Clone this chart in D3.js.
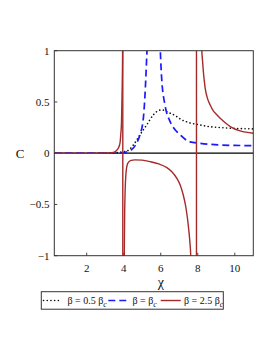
<!DOCTYPE html>
<html>
<head>
<meta charset="utf-8">
<script src="https://cdn.jsdelivr.net/npm/d3@7"></script>
<style>
  body { margin: 0; background: #fff; }
  svg { display: block; }
  text { font-family: "Liberation Serif", "Times New Roman", serif; fill: #111; }
</style>
</head>
<body>
<svg id="canvas" width="274" height="355"></svg>
<script>
// beta = 0.5 beta_c (black dotted)
let blackChi = [0.25, 2, 3, 3.6, 3.9, 4.16, 4.52, 4.88, 5.24, 5.6, 5.96, 6.15, 6.33, 6.87, 7.04, 7.5, 8.12, 8.6, 9.21, 10, 11]
let blackC = [0, 0, 0.001, 0.005, 0.012, 0.02, 0.08, 0.18, 0.276, 0.374, 0.42, 0.42, 0.405, 0.357, 0.335, 0.3, 0.276, 0.26, 0.25, 0.242, 0.237]

// beta = beta_c (blue dashed), null = pole
let blueChi = [0.25, 2, 3, 3.98, 4.2, 4.52, 4.7, 4.88, 5.06, 5.15, 5.24, 5.3, 5.6, 5.94, 6.0, 6.05, 6.23, 6.5, 6.87, 7.04, 7.58, 8.12, 9.21, 10, 11]
let blueC = [0, 0, 0, 0.003, 0.015, 0.05, 0.1, 0.18, 0.34, 0.57, 0.93, 1.2, null, 1.2, 0.9, 0.73, 0.47, 0.31, 0.21, 0.18, 0.11, 0.097, 0.08, 0.076, 0.074]

// beta = 2.5 beta_c (red), null = break between branches
let redChi = [0.25, 2, 3, 3.44, 3.6, 3.71, 3.8, 3.84, 3.88, 3.91, 3.94, 3.95, 3.97,
  3.99, 4.03, 4.05, 4.08, 4.12, 4.18, 4.27, 4.4, 4.6, 5.0, 5.42, 5.9, 6.33, 6.6, 6.87, 7.05, 7.22, 7.35, 7.44, 7.52, 7.58, 7.62, 7.66, 7.8,
  8.2, 8.22, 8.25, 8.3, 8.35, 8.4, 8.5, 8.67, 8.85, 9.0, 9.21, 9.5, 9.75, 10.29, 11]
let redC = [0, 0, 0.002, 0.008, 0.025, 0.05, 0.1, 0.18, 0.3, 0.57, 1.0, 1.5, null,
  -1.5, -1.0, -0.6, -0.35, -0.2, -0.12, -0.085, -0.07, -0.065, -0.068, -0.082, -0.105, -0.14, -0.18, -0.245, -0.31, -0.41, -0.52, -0.63, -0.76, -0.88, -1.0, -1.5, null,
  1.5, 1.0, 0.92, 0.8, 0.71, 0.634, 0.55, 0.47, 0.41, 0.38, 0.34, 0.295, 0.26, 0.217, 0.195]
// jumps of the red curve, drawn as full-height lines
let redPoles = [3.95, 7.93]

let xTicks = [2, 4, 6, 8, 10]
let yTicks = [-1, -0.5, 0, 0.5, 1]
let legendLabels = [["β = 0.5 β", "c"], ["β = β", "c"], ["β = 2.5 β", "c"]]

let canvas = d3.select("#canvas")
let plotLeft = 54.3, plotRight = 253.3, plotTop = 50.7, plotBottom = 255.7

let x = d3.scaleLinear().domain([0.25, 11]).range([plotLeft, plotRight])
let y = d3.scaleLinear().domain([-1, 1]).range([plotBottom, plotTop])

canvas.append("defs").append("clipPath").attr("id", "clip")
  .append("rect").attr("x", plotLeft).attr("y", plotTop)
  .attr("width", plotRight - plotLeft).attr("height", plotBottom - plotTop)

let fmt = (v) => (v < 0 ? "\u2212" : "") + Math.abs(v)

// ticks
canvas.selectAll(".ytick").data(yTicks).enter().append("line")
  .attr("x1", plotLeft).attr("x2", plotLeft + 3)
  .attr("y1", (d) => y(d)).attr("y2", (d) => y(d))
  .attr("stroke", "#444")
canvas.selectAll(".xtick").data(xTicks).enter().append("line")
  .attr("x1", (d) => x(d)).attr("x2", (d) => x(d))
  .attr("y1", plotBottom).attr("y2", plotBottom - 3)
  .attr("stroke", "#444")

canvas.selectAll(".ylab").data(yTicks).enter().append("text")
  .attr("x", 49.5).attr("y", (d) => y(d) + 4)
  .attr("text-anchor", "end").attr("font-size", 11)
  .text(fmt)
canvas.selectAll(".xlab").data(xTicks).enter().append("text")
  .attr("x", (d) => x(d)).attr("y", 271.5)
  .attr("text-anchor", "middle").attr("font-size", 11)
  .text((d) => d)

canvas.append("text").attr("x", 20).attr("y", 157.5).attr("text-anchor", "middle")
  .attr("font-size", 13).text("C")
canvas.append("text").attr("x", x(6)).attr("y", 287).attr("text-anchor", "middle")
  .attr("font-size", 14).text("χ")

// zero line
canvas.append("line")
  .attr("x1", plotLeft).attr("x2", plotRight).attr("y1", y(0)).attr("y2", y(0))
  .attr("stroke", "#000").attr("stroke-width", 1.3)

let makeLine = (curve) => d3.line()
  .defined((d) => d[1] !== null)
  .x((d) => x(d[0])).y((d) => y(d[1]))
  .curve(curve)

let plot = canvas.append("g").attr("clip-path", "url(#clip)")

plot.append("path")
  .attr("d", makeLine(d3.curveMonotoneX)(d3.zip(blackChi, blackC)))
  .attr("fill", "none").attr("stroke", "#111").attr("stroke-width", 1.6)
  .attr("stroke-dasharray", "0.1 3.6").attr("stroke-linecap", "round")

plot.append("path")
  .attr("d", makeLine(d3.curveMonotoneX)(d3.zip(blueChi, blueC)))
  .attr("fill", "none").attr("stroke", "#1a1aff").attr("stroke-width", 1.7)
  .attr("stroke-dasharray", "7 4")

plot.append("path")
  .attr("d", makeLine(d3.curveMonotoneX)(d3.zip(redChi, redC)))
  .attr("fill", "none").attr("stroke", "#a52a2a").attr("stroke-width", 1.4)

plot.selectAll(".pole").data(redPoles).enter().append("line")
  .attr("x1", (d) => x(d)).attr("x2", (d) => x(d))
  .attr("y1", y(1)).attr("y2", y(-1))
  .attr("stroke", "#a52a2a").attr("stroke-width", 1.4)

// frame
canvas.append("rect")
  .attr("x", plotLeft).attr("y", plotTop)
  .attr("width", plotRight - plotLeft).attr("height", plotBottom - plotTop)
  .attr("fill", "none").attr("stroke", "#333").attr("stroke-width", 1)

// legend
let legend = canvas.append("g")
legend.append("rect")
  .attr("x", 41.3).attr("y", 291.7).attr("width", 182).attr("height", 17.5)
  .attr("fill", "#fff").attr("stroke", "#333").attr("stroke-width", 1)

let sampleX = [43.5, 108.3, 160.7]
let sampleW = [18, 21, 20]
let textX = [67.5, 132.5, 184]
let styles = [
  { stroke: "#111", dash: "0.1 3.6", width: 1.6, cap: "round" },
  { stroke: "#1a1aff", dash: "7 4", width: 1.7, cap: "butt" },
  { stroke: "#a52a2a", dash: null, width: 1.4, cap: "butt" }
]
legendLabels.forEach((lab, i) => {
  legend.append("line")
    .attr("x1", sampleX[i]).attr("x2", sampleX[i] + sampleW[i])
    .attr("y1", 300.5).attr("y2", 300.5)
    .attr("stroke", styles[i].stroke).attr("stroke-width", styles[i].width)
    .attr("stroke-dasharray", styles[i].dash).attr("stroke-linecap", styles[i].cap)
  let t = legend.append("text").attr("x", textX[i]).attr("y", 304).attr("font-size", 10)
  t.append("tspan").text(lab[0])
  t.append("tspan").attr("dy", 2.5).attr("font-style", "italic").attr("font-size", 8).text(lab[1])
})
</script>
</body>
</html>
